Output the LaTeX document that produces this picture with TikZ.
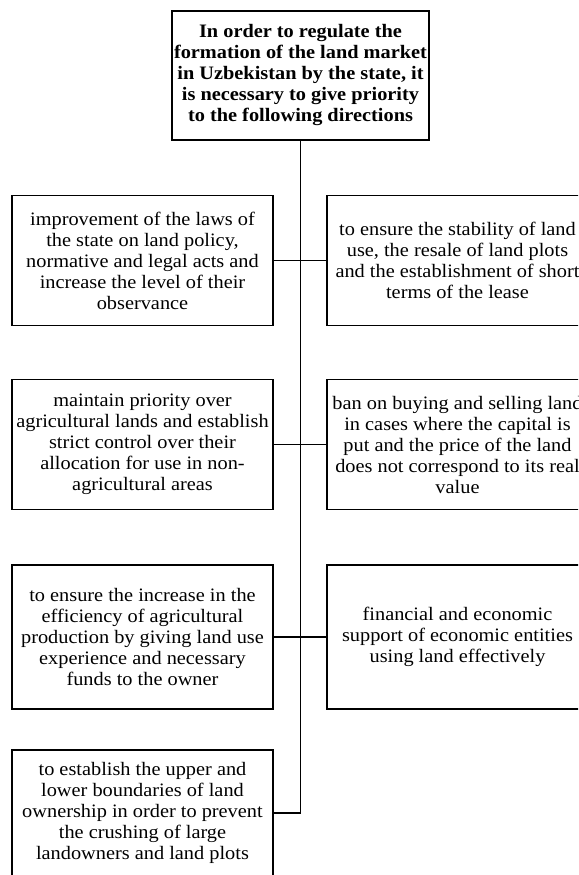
\documentclass[tikz,border=0pt]{standalone}
\usepackage{fontspec}
\setmainfont{Liberation Serif}[FakeStretch=1.07]
\usepackage{tikz}

\tikzset{
  topbox/.style={draw, line width=1.6pt, minimum width=257pt, minimum height=129pt,
    align=center, inner sep=2pt, font=\fontsize{19}{21}\selectfont\bfseries},
  dirbox/.style={draw, line width=1.5pt, minimum width=261pt, minimum height=130pt,
    align=center, inner sep=2pt, font=\fontsize{19}{21}\selectfont},
  trunk/.style={line width=1.6pt},
}

\begin{document}
\begin{tikzpicture}[x=1pt,y=-1pt]
\useasboundingbox (0,0) rectangle (578,875);
\clip (0,0) rectangle (578,875);
\node[topbox] (head) at (300.5,75.5) {In order to regulate the\\formation of the land market\\in Uzbekistan by the state, it\\is necessary to give priority\\to the following directions}; % heading
\node[dirbox] (l1) at (142.5,260.5) {improvement of the laws of\\the state on land policy,\\normative and legal acts and\\increase the level of their\\observance};
\node[dirbox] (r1) at (457.5,260.5) {to ensure the stability of land\\use, the resale of land plots\\and the establishment of short\\terms of the lease};
\node[dirbox] (l2) at (142.5,444.5) {maintain priority over\\agricultural lands and establish\\strict control over their\\allocation for use in non-\\agricultural areas};
\node[dirbox] (r2) at (457.5,444.5) {ban on buying and selling land\\in cases where the capital is\\put and the price of the land\\does not correspond to its real\\value};
\node[dirbox, minimum height=144pt] (l3) at (142.5,637) {to ensure the increase in the\\efficiency of agricultural\\production by giving land use\\experience and necessary\\funds to the owner};
\node[dirbox, minimum height=144pt] (r3) at (457.5,637) {financial and economic\\support of economic entities\\using land effectively};
\node[dirbox, minimum height=126pt] (l4) at (142.5,813) {to establish the upper and\\lower boundaries of land\\ownership in order to prevent\\the crushing of large\\landowners and land plots}; % directions
\draw[trunk] (head.south) -- (head.south |- l4.east) -- (l4.east);
\draw[line width=1.5pt] (l1.east) -- (r1.west);
\draw[line width=0.7pt] (l2.east) -- (r2.west);
\draw[line width=1.5pt] (l3.east) -- (r3.west); % branches
\end{tikzpicture}
\end{document}
